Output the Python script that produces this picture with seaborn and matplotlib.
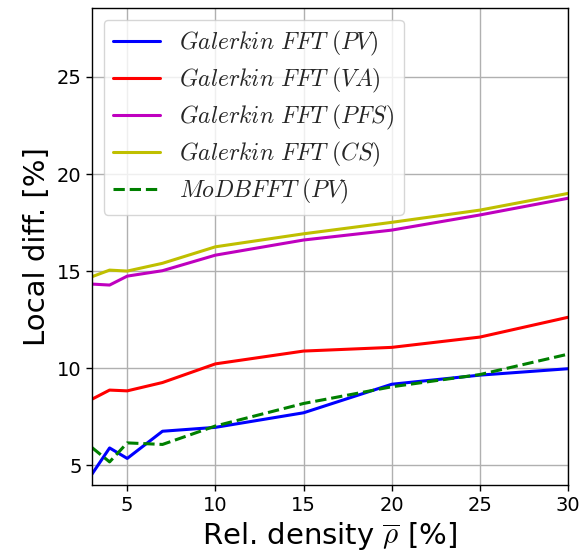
import matplotlib
matplotlib.use("Agg")
import matplotlib.pyplot as plt
import seaborn as sns
import pandas as pd

density = [3, 4, 5, 7, 10, 15, 20, 25, 30]
galerkin_pv = [4.54, 5.89, 5.35, 6.75, 6.95, 7.70, 9.17, 9.64, 9.97]
galerkin_va = [8.40, 8.87, 8.83, 9.26, 10.22, 10.88, 11.07, 11.60, 12.62]
galerkin_pfs = [14.33, 14.28, 14.74, 15.02, 15.82, 16.60, 17.11, 17.89, 18.75]
galerkin_cs = [14.71, 15.05, 15.00, 15.40, 16.25, 16.92, 17.51, 18.14, 19.00]
modbfft_pv = [5.91, 5.17, 6.15, 6.07, 7.02, 8.18, 9.04, 9.67, 10.72]

labels = [
    r"$Galerkin\ FFT\ (PV)$",
    r"$Galerkin\ FFT\ (VA)$",
    r"$Galerkin\ FFT\ (PFS)$",
    r"$Galerkin\ FFT\ (CS)$",
    r"$MoDBFFT\ (PV)$",
]
series = [galerkin_pv, galerkin_va, galerkin_pfs, galerkin_cs, modbfft_pv]
colors = ["#0000ff", "#ff0000", "#bf00bf", "#bfbf00", "#008000"]
styles = ["-", "-", "-", "-", "--"]

sns.set_theme(style="ticks", rc={
    "axes.grid": True,
    "grid.color": "#b0b0b0",
    "grid.linewidth": 1.0,
    "axes.edgecolor": "black",
    "axes.linewidth": 1.0,
    "xtick.color": "black",
    "ytick.color": "black",
    "axes.labelcolor": "black",
})
plt.rcParams["font.family"] = ["DejaVu Sans"]
plt.rcParams["mathtext.fontset"] = "cm"

fig = plt.figure(figsize=(5.82, 5.59), dpi=100)
ax = fig.add_axes([0.158, 0.132, 0.818, 0.854])

for lab, vals, c, ls in zip(labels, series, colors, styles):
    df = pd.DataFrame({"density": density, "diff": vals})
    sns.lineplot(data=df, x="density", y="diff", ax=ax, color=c,
                 linestyle=ls, linewidth=2.2, label=lab)

ax.set_xlim(3, 30)
ax.set_ylim(3.97, 28.56)
ax.set_xticks([5, 10, 15, 20, 25, 30])
ax.set_yticks([5, 10, 15, 20, 25])
ax.tick_params(labelsize=14, length=4, width=1, direction="out")
ax.set_xlabel(r"Rel. density $\overline{\rho}$ [%]", fontsize=21)
ax.set_ylabel("Local diff. [%]", fontsize=21)

leg = ax.legend(loc="upper left", fontsize=17, frameon=True, fancybox=True,
                framealpha=0.8, edgecolor="#cccccc", handlelength=2.0,
                labelspacing=0.33)

fig.savefig("out.png", dpi=100)
